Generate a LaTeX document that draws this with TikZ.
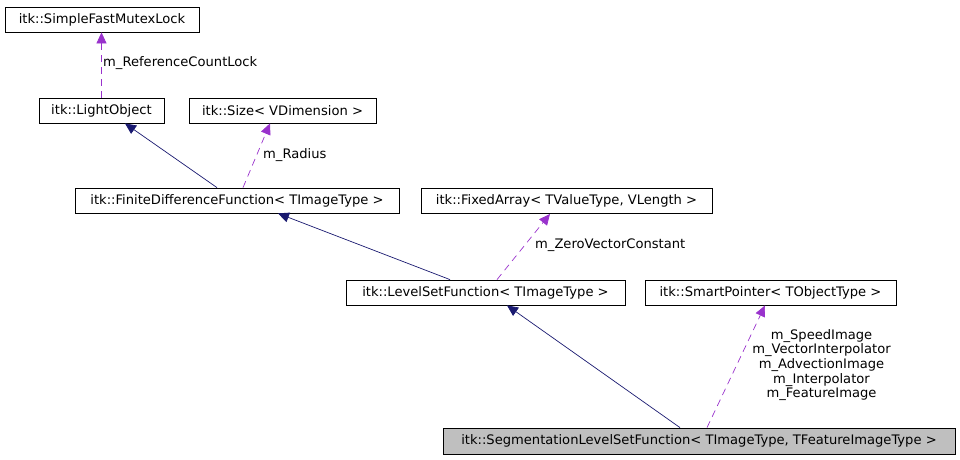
\documentclass[tikz,border=0pt]{standalone}
\usepackage{fontspec}
\setmainfont{DejaVu Sans}
\usetikzlibrary{arrows.meta}

\definecolor{inherit}{RGB}{25,25,112}
\definecolor{member}{RGB}{153,50,204}

\tikzset{
    cls/.style={draw, line width=0.8pt, fill=white, inner sep=0pt, minimum height=25,
        font=\fontsize{13.1}{15}\selectfont},
    mylabel/.style={inner sep=0pt, font=\fontsize{13.1}{14.7}\selectfont},
    isa/.style={-{Triangle[length=11, width=10]}, inherit, line width=0.7pt},
    uses/.style={-{Triangle[length=11, width=10]}, member, line width=0.7pt, dash pattern=on 7pt off 5pt},
}

\begin{document}
\begin{tikzpicture}[x=1pt, y=-1pt]
    \useasboundingbox (0,0) rectangle (960,459);

    % classes
    \node[cls, minimum width=194] (mutex) at (102,19.5) {itk::SimpleFastMutexLock};
    \node[cls, minimum width=125] (light) at (101.5,110.5) {itk::LightObject};
    \node[cls, minimum width=187] (size) at (282.5,110.5) {itk::Size< VDimension >};
    \node[cls, minimum width=324] (fdf) at (237,200.5) {itk::FiniteDifferenceFunction< TImageType >};
    \node[cls, minimum width=291] (fixed) at (566.5,201) {itk::FixedArray< TValueType, VLength >};
    \node[cls, minimum width=279] (lsf) at (485.5,292.5) {itk::LevelSetFunction< TImageType >};
    \node[cls, minimum width=251] (smart) at (770.5,292.5) {itk::SmartPointer< TObjectType >};
    \node[cls, minimum width=512, minimum height=26, fill=black!25] (seg) at (699,441)
        {itk::SegmentationLevelSetFunction< TImageType, TFeatureImageType >};

    % inheritance
    \draw[isa] ([xshift=-20]fdf.north) -- ([xshift=23.5]light.south);
    \draw[isa] ([xshift=-35.5]lsf.north) -- ([xshift=41]fdf.south);
    \draw[isa] ([xshift=-19]seg.north) -- ([xshift=21.5]lsf.south);

    % members
    \draw[uses] (light.north) -- (light.north |- mutex.south);
    \draw[uses] ([xshift=6]fdf.north) -- ([xshift=-12.5]size.south);
    \draw[uses] ([xshift=11.5]lsf.north) -- ([xshift=-16.5]fixed.south);
    \draw[uses] ([xshift=8]seg.north) -- ([xshift=-5.5]smart.south);

    \node[mylabel, anchor=west] (lbllock) at (103,63.5) {m\_ReferenceCountLock};
    \node[mylabel, anchor=west] (lblradius) at (263,155.5) {m\_Radius};
    \node[mylabel, anchor=west] (lblzero) at (535,245.5) {m\_ZeroVectorConstant};
    \node[mylabel, align=center] (lblsmart) at (821.5,365)
        {m\_SpeedImage\\m\_VectorInterpolator\\m\_AdvectionImage\\m\_Interpolator\\m\_FeatureImage};
\end{tikzpicture}
\end{document}
